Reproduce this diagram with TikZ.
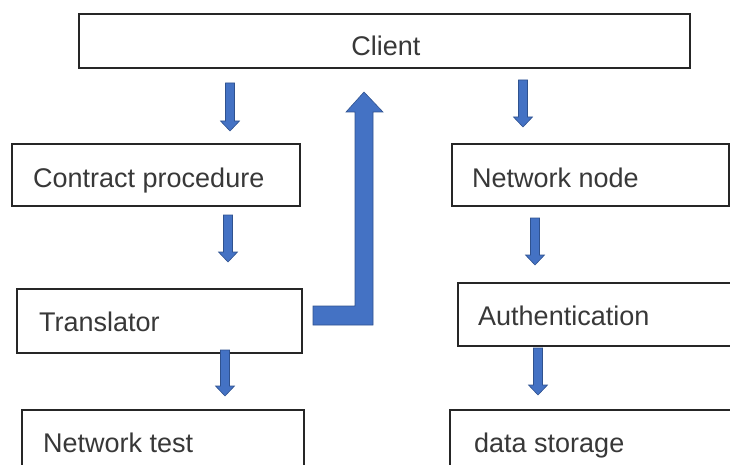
\documentclass[tikz,border=0pt]{standalone}
\usepackage{fontspec}
\setmainfont{Liberation Sans}
\definecolor{arrowfill}{HTML}{4472C4}
\definecolor{arrowedge}{HTML}{2F528F}
\tikzset{
  box/.style={draw=black!85, line width=1.4pt, fill=white},
  lbl/.style={font=\fontsize{27}{30}\selectfont, text=black!78, inner sep=0pt, anchor=base west},
  flow/.style={fill=arrowfill, draw=arrowedge, line width=0.6pt},
}
% small down arrow: shaft 9 wide, head 19 wide, head length 10
\newcommand{\downarrowshape}[3]{% x, top y, tip y
  \filldraw[flow] (#1-4.5,#2) -- (#1+4.5,#2) -- (#1+4.5,#3-10) -- (#1+9.5,#3-10)
    -- (#1,#3) -- (#1-9.5,#3-10) -- (#1-4.5,#3-10) -- cycle;}
\begin{document}
\begin{tikzpicture}[x=1pt,y=-1pt]
  \useasboundingbox (0,0) rectangle (730,465);
  \clip (0,0) rectangle (730,465);

  % boxes
  \draw[box] (79,14) rectangle (690,68);
  \node[lbl, anchor=base] (client) at (386,56) {Client};

  \draw[box] (12,144) rectangle (300,206);
  \node[lbl] (contract) at (33,187) {Contract procedure};

  \draw[box] (452,144) rectangle (729,206);
  \node[lbl] (netnode) at (472,187) {Network node};

  \draw[box] (17,289) rectangle (302,353);
  \node[lbl] (translator) at (39,331) {Translator};

  \draw[box] (458,283) rectangle (740,346);
  \node[lbl] (auth) at (478,325) {Authentication};

  \draw[box] (22,410) rectangle (304,480);
  \node[lbl] (nettest) at (43,452) {Network test};

  \draw[box] (450,410) rectangle (740,480);
  \node[lbl] (storage) at (474,452) {data storage};

  % small flow arrows
  \downarrowshape{230}{83}{131}
  \downarrowshape{523}{80}{127}
  \downarrowshape{228}{215}{262}
  \downarrowshape{535}{218}{265}
  \downarrowshape{225}{350}{396}
  \downarrowshape{538}{348}{395}

  % bent return arrow from Translator up to Client
  \filldraw[flow] (313,306) -- (355,306) -- (355,112) -- (346,112) -- (364,92)
    -- (383,112) -- (373,112) -- (373,325) -- (313,325) -- cycle;
\end{tikzpicture}
\end{document}
